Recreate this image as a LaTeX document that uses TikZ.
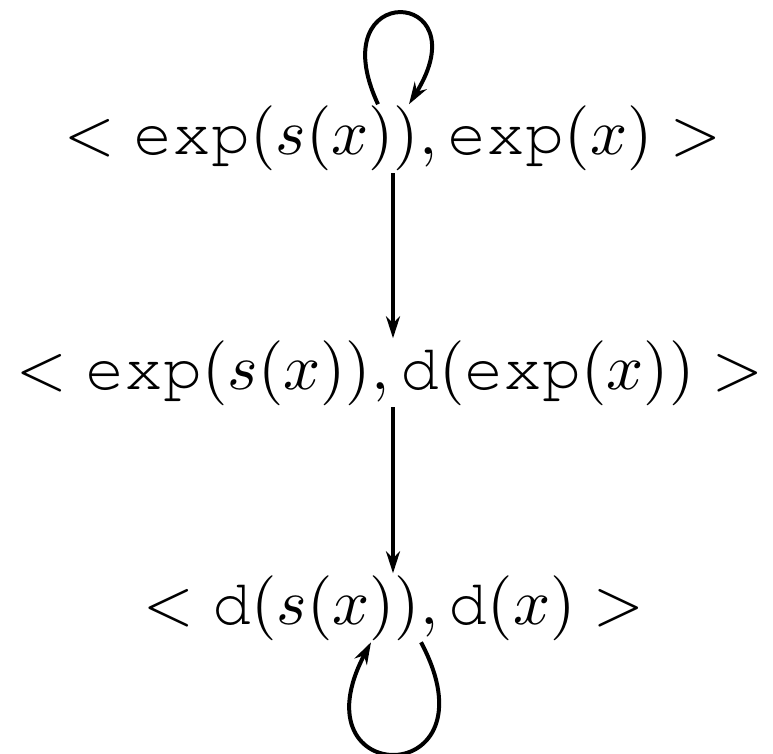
\documentclass[tikz,border=0pt]{standalone}
\usepackage[T1]{fontenc}
\usetikzlibrary{arrows.meta}
\newcommand\courtt[1]{\mbox{\fontencoding{T1}\fontfamily{pcr}\selectfont #1}}
\begin{document}
\begin{tikzpicture}[x=1pt,y=-1pt,
  lbl/.style={anchor=base, inner sep=0pt, outer sep=2pt},
  arr/.style={line width=4pt, -{Stealth[length=22pt,width=14pt]}}]
\useasboundingbox (0,0) rectangle (773,754);
\node[lbl] (n1) at (393,155) {\scalebox{6.5}{$<\courtt{exp}(s(x)),\courtt{exp}(x)>$}};
\node[lbl] (n2) at (390,389) {\scalebox{6.5}{$<\courtt{exp}(s(x)),\courtt{d}(\courtt{exp}(x))>$}};
\node[lbl] (n3) at (394,624) {\scalebox{6.5}{$<\courtt{d}(s(x)),\courtt{d}(x)>$}};
\draw[arr] (n1.south) -- (n1.south |- n2.north);
\draw[arr] (n2.south -| n1.south) -- (n1.south |- n3.north);
\draw[arr] ([xshift=-15pt]n1.north) .. controls +(115:138pt) and +(58:138pt) .. ([xshift=16pt]n1.north);
\draw[arr] ([xshift=27pt]n3.south) .. controls +(-62:168pt) and +(-118:168pt) .. ([xshift=-23pt]n3.south);
\end{tikzpicture}
\end{document}
